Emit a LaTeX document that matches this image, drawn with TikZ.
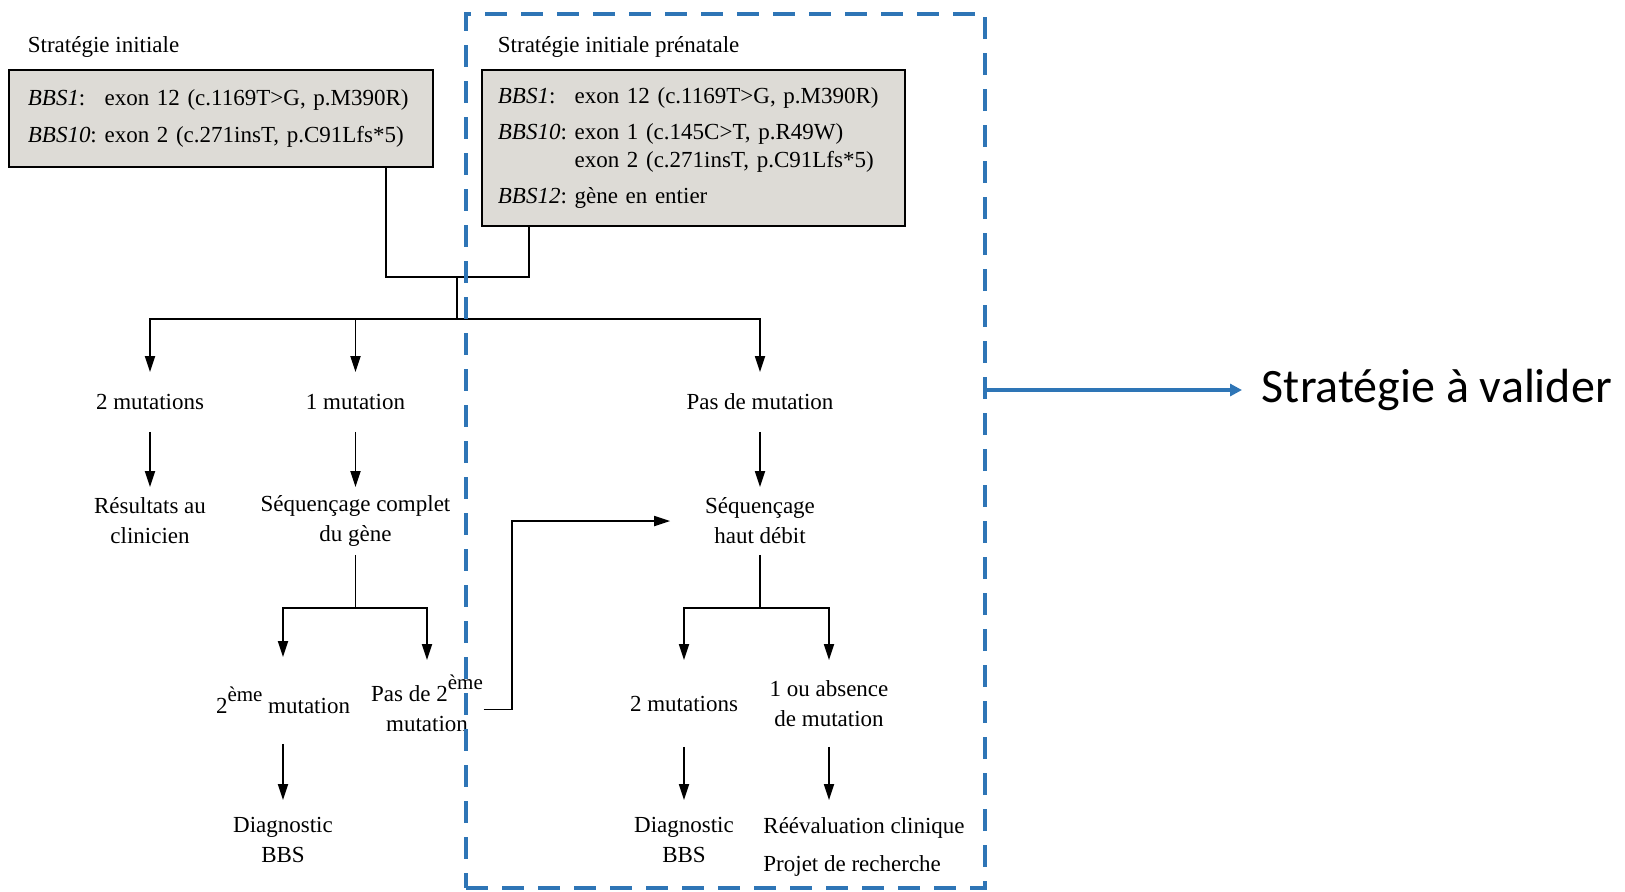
\documentclass[tikz,border=0pt]{standalone}
\usepackage{fontspec}
\setmainfont{Liberation Serif}
\newfontfamily\calibri{Carlito}
\usepackage{tikz}
\usetikzlibrary{arrows.meta}
\usepackage{xcolor}
\definecolor{zoneblue}{RGB}{46,117,182}
\definecolor{boxgray}{RGB}{221,219,214}
\newcommand{\eme}{\raisebox{6pt}{\fontsize{10.5}{12}\selectfont ème}}

\begin{document}
\begin{tikzpicture}[x=0.5pt,y=-0.5pt,line width=0.9pt,font={\fontsize{11.5}{15}\selectfont},
  genebox/.style={draw,fill=boxgray,anchor=north west,align=left,inner xsep=9.5pt,inner ysep=0pt},
  title/.style={anchor=west,inner sep=0pt},
  lvlA/.style={align=center,inner sep=0pt,minimum height=29pt},
  lvlB/.style={align=center,inner sep=0pt,minimum height=33pt},
  lvlC/.style={align=center,inner sep=0pt,minimum height=42.5pt},
  lvlD/.style={align=center,inner sep=0pt,minimum height=39pt},
  arr/.style={-{Triangle[length=8pt,width=5pt]}},
  zone/.style={draw=zoneblue,line width=2pt,dash pattern=on 11pt off 7pt,anchor=north west,inner sep=0pt,outer sep=0pt},
  bluearr/.style={draw=zoneblue,line width=2pt,-{Triangle[length=6pt,width=6pt]}}]
\useasboundingbox (0,0) rectangle (1625,891);

\node[title] (titreA) at (27,47) {Stratégie initiale};
\node[title] (titreB) at (497,47) {Stratégie initiale prénatale};
\node[genebox,text width=193pt,minimum width=212pt,minimum height=48.5pt] (initA) at (8,69)
  {\begin{tabular}{@{}l@{\ }l@{}}
   \textit{BBS1}: & exon 12 (c.1169T>G, p.M390R)\\[3.5pt]
   \textit{BBS10}: & exon 2 (c.271insT, p.C91Lfs*5)
   \end{tabular}};
\node[genebox,inner xsep=8pt,text width=195.5pt,minimum width=211.5pt,minimum height=78pt] (initB) at (481,69)
  {\begin{tabular}{@{}l@{\ }l@{}}
   \textit{BBS1}: & exon 12 (c.1169T>G, p.M390R)\\[3pt]
   \textit{BBS10}: & exon 1 (c.145C>T, p.R49W)\\[-1pt]
    & exon 2 (c.271insT, p.C91Lfs*5)\\[3pt]
   \textit{BBS12}: & gène en entier
   \end{tabular}};

\node[lvlA] (deuxA) at (150,402) {2 mutations};
\node[lvlA] (uneA) at (355.5,402) {1 mutation};
\node[lvlA] (aucune) at (760,402) {Pas de mutation};
\node[lvlB] (resultats) at (150,521) {Résultats au\\clinicien};
\node[lvlB] (complet) at (355.5,521) {Séquençage complet\\du gène};
\node[lvlB] (hautdebit) at (760,521) {Séquençage\\haut débit};
\node[lvlC] (deuxieme) at (283,700.5) {2\eme{} mutation};
\node[lvlC] (pasdeux) at (427,703.5) {Pas de 2\eme\\mutation};
\node[lvlC] (deuxB) at (684,703.5) {2 mutations};
\node[lvlC] (absence) at (829,703.5) {1 ou absence\\de mutation};
\node[lvlD] (diagA) at (283,840) {Diagnostic\\BBS};
\node[lvlD] (diagB) at (684,840) {Diagnostic\\BBS};
\node[lvlD,align=left] (reeval) at (864,847) {Réévaluation clinique\\[4pt]Projet de recherche};

\coordinate (jonction) at (457,277);
\coordinate (partage) at (457,319);
\draw ([xshift=-23.75pt]initA.south east) |- (jonction) -| ([xshift=23.8pt]initB.south west);
\draw (jonction) -- (partage);
\draw[arr] (partage) -| (deuxA.north);
\draw[arr] (partage) -| (uneA.north);
\draw[arr] (partage) -| (aucune.north);
\draw[arr] (deuxA) -- (resultats);
\draw[arr] (uneA) -- (complet);
\draw[arr] (aucune) -- (hautdebit);
\draw (complet.south) -- ++(0,53) coordinate (barreA);
\draw[arr] (barreA) -| (deuxieme.north);
\draw[arr] (barreA) -| (pasdeux.north);
\draw (hautdebit.south) -- ++(0,53) coordinate (barreB);
\draw[arr] (barreB) -| (deuxB.north);
\draw[arr] (barreB) -| (absence.north);
\draw[arr,shorten >=17pt] ([yshift=-3pt]pasdeux.east) -- ++(28,0) |- (hautdebit.west);
\draw[arr] (deuxieme) -- (diagA);
\draw[arr] (deuxB) -- (diagB);
\draw[arr] (absence.south) -- (absence.south |- diagB.north);

\node[zone,minimum width=259.5pt,minimum height=437.25pt] (zone) at (466,13.5) {};
\node[anchor=west,inner sep=0pt,inner xsep=9.5pt,font={\calibri\fontsize{24}{28}\selectfont}] (valider) at (1242,390) {Stratégie à valider};
\draw[bluearr] (zone.east |- valider.west) -- (valider.west);
\end{tikzpicture}
\end{document}
